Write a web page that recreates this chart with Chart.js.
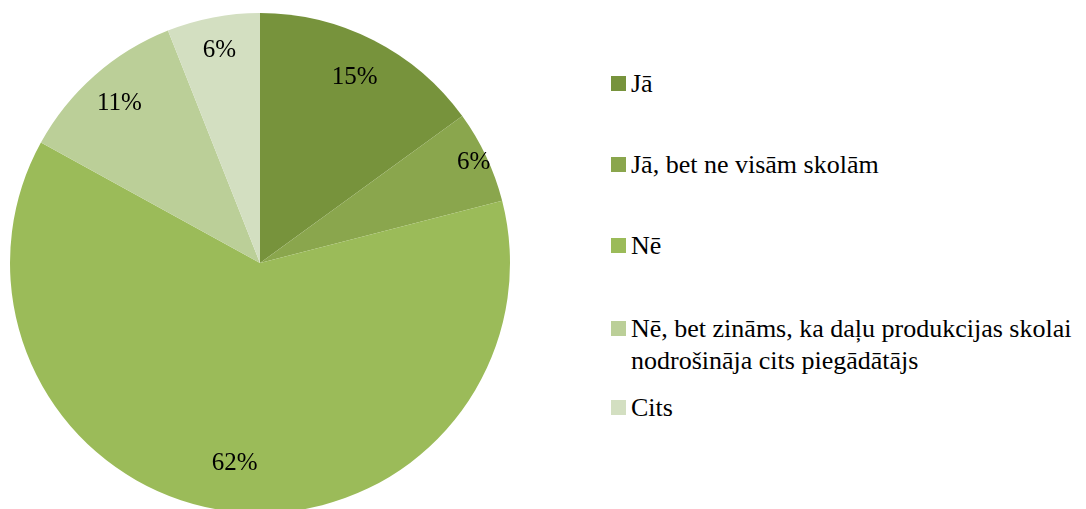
<!DOCTYPE html>
<html>
<head>
<meta charset="utf-8">
<script src="https://cdn.jsdelivr.net/npm/chart.js@4.4.1/dist/chart.umd.min.js"></script>
<style>
  html, body { margin: 0; padding: 0; background: #fff; overflow: hidden; width: 1086px; height: 509px; }
  #pieBox { position: absolute; left: 0; top: 0; width: 520px; height: 526px; }
  #legend { position: absolute; left: 611px; top: 0; width: 475px;
    font-family: "Liberation Serif", "Times New Roman", Times, "DejaVu Serif", serif; font-size: 26px; color: #000; }
  .item { position: absolute; left: 0; display: flex; align-items: flex-start; line-height: 32px; white-space: nowrap; }
  .box { width: 15px; height: 15px; margin-top: 8px; margin-right: 5px; flex: none; }
</style>
</head>
<body>
<div id="pieBox"><canvas id="pieChart"></canvas></div>
<div id="legend"></div>
<script>
'use strict';

const LABELS = [
  'Jā',
  'Jā, bet ne visām skolām',
  'Nē',
  ['Nē, bet zināms, ka daļu produkcijas skolai', 'nodrošināja cits piegādātājs'],
  'Cits',
];
const VALUES = [15, 6, 62, 11, 6];
const COLORS = ['#77933c', '#8aa64d', '#9bbb59', '#bbcf98', '#d3dfc1'];

// legend row tops (px) and label radius factors
const LEGEND_TOPS = [68, 149, 230, 313, 392];
const LABEL_RADIUS = [0.835, 0.944, 0.81, 0.85, 0.865];

const FONT = '"Liberation Serif", "Times New Roman", Times, "DejaVu Serif", serif';

// percent labels inside the slices
const sliceLabels = {
  id: 'sliceLabels',
  afterDatasetsDraw(chart) {
    const ctx = chart.ctx;
    const meta = chart.getDatasetMeta(0);
    ctx.save();
    ctx.font = '25px ' + FONT;
    ctx.fillStyle = '#000';
    ctx.textAlign = 'center';
    ctx.textBaseline = 'middle';
    meta.data.forEach((arc, i) => {
      const p = arc.getProps(['x', 'y', 'startAngle', 'endAngle', 'outerRadius'], true);
      const mid = (p.startAngle + p.endAngle) / 2;
      const r = p.outerRadius * LABEL_RADIUS[i];
      ctx.fillText(VALUES[i] + '%', p.x + Math.cos(mid) * r, p.y + Math.sin(mid) * r);
    });
    ctx.restore();
  },
};

const c1 = document.getElementById('pieChart');
new Chart(c1.getContext('2d'), {
  type: 'pie',
  data: {
    labels: LABELS,
    datasets: [{
      data: VALUES,
      backgroundColor: COLORS,
      borderWidth: 0,
    }],
  },
  options: {
    responsive: true,
    maintainAspectRatio: false,
    animation: false,
    layout: { padding: { left: 10, right: 10, top: 13, bottom: 13 } },
    plugins: { legend: { display: false }, tooltip: { enabled: false } },
  },
  plugins: [sliceLabels],
});

// HTML legend built from the same arrays
const legendEl = document.getElementById('legend');
LABELS.forEach((lab, i) => {
  const row = document.createElement('div');
  row.className = 'item';
  row.style.top = LEGEND_TOPS[i] + 'px';
  const box = document.createElement('span');
  box.className = 'box';
  box.style.background = COLORS[i];
  const txt = document.createElement('span');
  txt.innerHTML = Array.isArray(lab) ? lab.join('<br>') : lab;
  row.appendChild(box);
  row.appendChild(txt);
  legendEl.appendChild(row);
});
</script>
</body>
</html>
